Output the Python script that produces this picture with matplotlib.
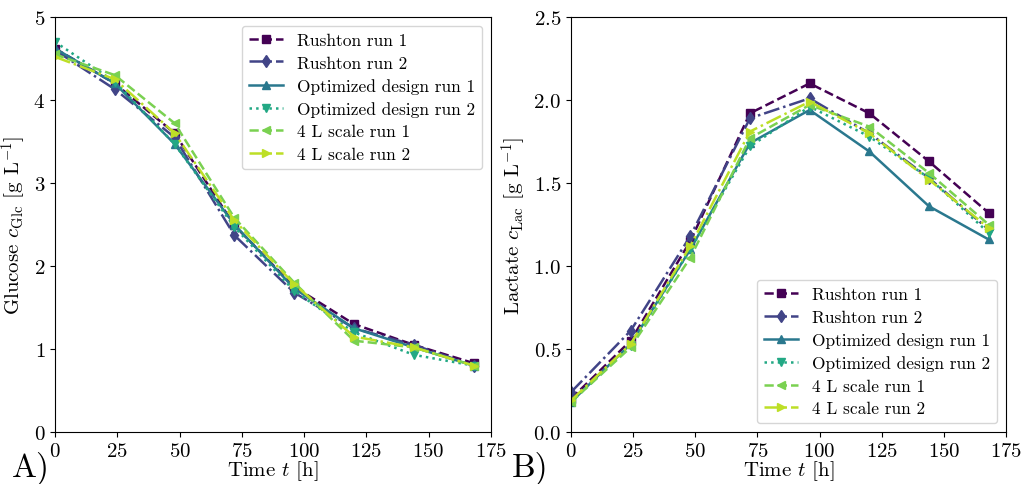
import numpy as np
import matplotlib
matplotlib.use('Agg')
from matplotlib import pyplot as plt

plt.rcParams['font.family'] = ['cmr10', 'DejaVu Serif']
plt.rcParams['mathtext.fontset'] = 'cm'
plt.rcParams['axes.formatter.use_mathtext'] = True
plt.rcParams['font.size'] = 14

# Zeitpunkte der Proben [h]
time = [0, 24, 48, 72, 96, 120, 144, 168]

labels = ['Rushton run 1', 'Rushton run 2', 'Optimized design run 1',
          'Optimized design run 2', '4 L scale run 1', '4 L scale run 2']

# Glucose [g/L]
glc_rushton_1 = [4.62, 4.20, 3.60, 2.49, 1.75, 1.30, 1.05, 0.83]
glc_rushton_2 = [4.60, 4.13, 3.55, 2.37, 1.68, 1.25, 1.05, 0.80]
glc_opt_1 = [4.62, 4.20, 3.47, 2.50, 1.73, 1.25, 1.02, 0.80]
glc_opt_2 = [4.70, 4.22, 3.47, 2.47, 1.70, 1.20, 0.93, 0.80]
glc_4l_1 = [4.55, 4.30, 3.72, 2.58, 1.80, 1.10, 1.02, 0.80]
glc_4l_2 = [4.52, 4.25, 3.60, 2.55, 1.78, 1.15, 1.02, 0.80]

# Lactate [g/L]
lac_rushton_1 = [0.20, 0.55, 1.15, 1.92, 2.10, 1.92, 1.63, 1.32]
lac_rushton_2 = [0.24, 0.61, 1.18, 1.89, 2.01, 1.80, 1.53, 1.22]
lac_opt_1 = [0.18, 0.53, 1.10, 1.74, 1.94, 1.69, 1.36, 1.16]
lac_opt_2 = [0.18, 0.52, 1.10, 1.72, 1.96, 1.78, 1.53, 1.20]
lac_4l_1 = [0.18, 0.51, 1.05, 1.77, 1.97, 1.84, 1.56, 1.25]
lac_4l_2 = [0.19, 0.53, 1.12, 1.81, 1.99, 1.80, 1.52, 1.23]

glucose = [glc_rushton_1, glc_rushton_2, glc_opt_1, glc_opt_2, glc_4l_1, glc_4l_2]
lactate = [lac_rushton_1, lac_rushton_2, lac_opt_1, lac_opt_2, lac_4l_1, lac_4l_2]

colors = plt.cm.viridis([0.0, 0.2, 0.4, 0.6, 0.8, 0.9])
styles = ['--', '-.', '-', ':', '--', '-.']
markers = ['s', 'd', '^', 'v', '<', '>']

fig = plt.figure(figsize=(10.21, 4.85), dpi=100)
ax1 = fig.add_axes([55 / 1021, 52 / 485, 436 / 1021, 415 / 485])
ax2 = fig.add_axes([571 / 1021, 52 / 485, 435 / 1021, 415 / 485])

for i in range(6):
    ax1.plot(time, glucose[i], linestyle=styles[i], marker=markers[i], color=colors[i],
             label=labels[i], linewidth=1.8, markersize=6)
    ax2.plot(time, lactate[i], linestyle=styles[i], marker=markers[i], color=colors[i],
             label=labels[i], linewidth=1.8, markersize=6)

for ax in (ax1, ax2):
    ax.set_xlim(0, 175)
    ax.set_xticks(np.arange(0, 176, 25))
    ax.tick_params(labelsize=15)
    ax.set_xlabel('Time $t$ [h]', fontsize=15, labelpad=-1)

ax1.set_ylim(0, 5)
ax1.set_yticks(np.arange(0, 6, 1))
ax1.set_ylabel(r'Glucose $c_\mathrm{Glc}$ [g L$^{-1}$]', fontsize=15)
ax1.legend(loc='upper right', fontsize=12.5, labelspacing=0.42)

ax2.set_ylim(0, 2.5)
ax2.set_yticks(np.arange(0, 2.6, 0.5))
ax2.set_ylabel(r'Lactate $c_\mathrm{Lac}$ [g L$^{-1}$]', fontsize=15)
ax2.legend(loc='lower right', fontsize=12.5, labelspacing=0.42)

fig.text(12 / 1021, 8 / 485, 'A)', fontsize=24)
fig.text(512 / 1021, 8 / 485, 'B)', fontsize=24)

plt.savefig('out.png', dpi=100)
